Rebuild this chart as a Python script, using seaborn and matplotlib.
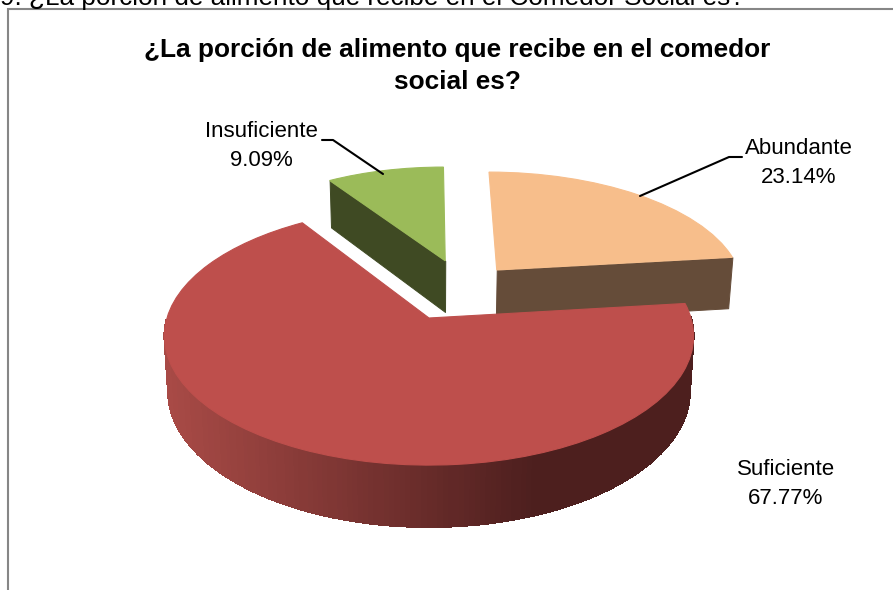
import numpy as np
import seaborn as sns
import matplotlib.pyplot as plt
from matplotlib.collections import PolyCollection
from matplotlib.path import Path
from matplotlib.transforms import Transform

labels = ['Abundante', 'Suficiente', 'Insuficiente']
values = [23.14, 67.77, 9.09]
explode = [0.2, 0.3, 0.22]
radii = [0.975, 1.0, 0.95]
top_colors = ['#F7BE8B', '#BE4F4C', '#9BBB59']
wall_colors = ['#654C39', None, '#3F4A23']
draw_order = [2, 0, 1]  # back slices first

TITLE = '¿La porción de alimento que recibe en el comedor\nsocial es?'
CAPTION = '9. ¿La porción de alimento que recibe en el Comedor Social es?'

# camera: the pie plane seen in perspective, pixels of the 893x590 picture
CX, CY = 429, 318
A, B, K = 262, 126.5, 0.14

sns.set_theme(style='white')
plt.rcParams['font.family'] = ['Liberation Sans', 'DejaVu Sans']


def project(x, y):
    w = 1 + K * y
    return CX + A * x / w, CY - B * y / w


def drop(X, Y):
    # lower rim of the disc, slightly smaller and further down towards the front
    return CX + (X - CX) * 0.986, Y + 47 + (Y - 183) * 0.053


class Perspective(Transform):
    input_dims = output_dims = 2

    def transform_non_affine(self, values):
        X, Y = project(values[:, 0], values[:, 1])
        return np.column_stack([X, Y])

    def transform_path_non_affine(self, path):
        return Path(self.transform_non_affine(path.vertices), path.codes)


fig = plt.figure(figsize=(8.93, 5.90), dpi=100)
ax = fig.add_axes([0, 0, 1, 1])

# the big slice has its tip on the camera centre
shares = np.array(values) / sum(values)
mid = np.radians(90 - 360 * (shares[0] + shares[1] / 2))
center = (-explode[1] * np.cos(mid), -explode[1] * np.sin(mid))

wedges, _ = ax.pie(values, explode=explode, colors=top_colors, startangle=90,
                   counterclock=False, center=center, wedgeprops={'linewidth': 0})
ax.set_aspect('auto')
ax.set_xlim(0, 893)
ax.set_ylim(590, 0)
ax.axis('off')

# small nudge of the tan slice, explode only moves along the bisector
wedges[0].set_center((wedges[0].center[0] + 0.012, wedges[0].center[1] - 0.02))

shade = sns.blend_palette(['#A84A46', '#4D1F1E'], 64)
proj = Perspective() + ax.transData
for z, i in enumerate(draw_order):
    wedge = wedges[i]
    wedge.set_radius(radii[i])
    wedge.set_transform(proj)
    wedge.set_zorder(2 * z + 2)
    wedge.set_clip_on(False)
    wedge.set_edgecolor(top_colors[i])
    wedge.set_linewidth(0.8)

    th = np.radians(np.linspace(wedge.theta1, wedge.theta2, 240))
    cx, cy = wedge.center
    xs = cx + radii[i] * np.cos(th)
    ys = cy + radii[i] * np.sin(th)
    keep = np.sin(th) < 0  # rim facing the camera
    quads, cols = [], []

    def add_quad(x0, y0, x1, y1, color):
        X, Y = project(np.array([x0, x1]), np.array([y0, y1]))
        X2, Y2 = drop(X, Y)
        quads.append([(X[0], Y[0]), (X[1], Y[1]), (X2[1], Y2[1]), (X2[0], Y2[0])])
        cols.append(color)

    for j in range(len(th) - 1):
        if keep[j]:
            if wall_colors[i] is None:
                t = np.clip((project(xs[j], ys[j])[0] - 165) / (530 - 165), 0, 1)
                add_quad(xs[j], ys[j], xs[j + 1], ys[j + 1], shade[int(t * 63)])
            else:
                add_quad(xs[j], ys[j], xs[j + 1], ys[j + 1], wall_colors[i])
    # flat cut faces, the one at 90 degrees is seen edge-on
    if wall_colors[i] is not None:
        if abs(wedge.theta1 % 360 - 90) > 1:
            add_quad(cx, cy, xs[0], ys[0], wall_colors[i])
        if abs(wedge.theta2 % 360 - 90) > 1:
            add_quad(cx, cy, xs[-1], ys[-1], wall_colors[i])
    ax.add_collection(PolyCollection(quads, facecolors=cols, edgecolors=cols, linewidths=0.7,
                                     antialiaseds=False, zorder=2 * z + 1))

# chart frame, only top and left are inside the crop
ax.plot([8, 8, 893], [590, 9, 9], color='#868686', lw=1.5, zorder=1, solid_joinstyle='miter')

ax.text(457, 66, TITLE, ha='center', va='center', fontsize=18.9, fontweight='bold',
        color='black', linespacing=1.43)
ax.text(0, 5, CAPTION, ha='left', va='baseline', fontsize=18.8, color='black', zorder=12)

text_pos = [(799, 163), (786, 484), (261, 146)]
for lab, val, (tx, ty) in zip(labels, values, text_pos):
    ax.text(tx, ty, f'{lab}\n{val:.2f}%', ha='center', va='center', fontsize=16,
            color='black', linespacing=1.47, zorder=12)

# leader lines
ax.plot([742, 729, 640], [157, 157, 196], color='black', lw=1.5, zorder=12)
ax.plot([322, 333, 383], [140, 140, 174], color='black', lw=1.5, zorder=12)

fig.savefig('out.png', dpi=100)
